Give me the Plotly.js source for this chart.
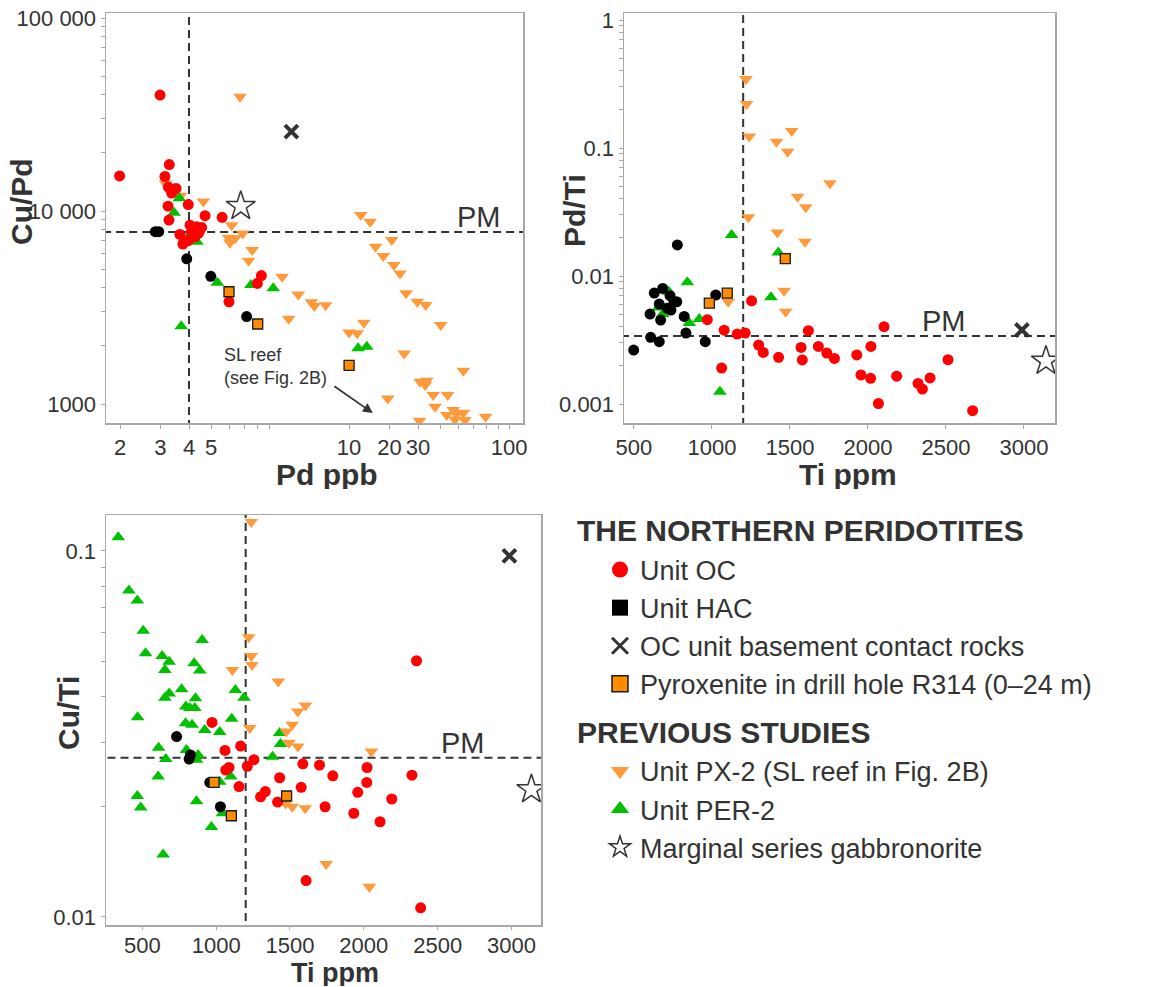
<!DOCTYPE html>
<html><head><meta charset="utf-8">
<script src="https://cdn.plot.ly/plotly-3.0.1.min.js"></script>
<style>html,body{margin:0;padding:0;background:#fff}#chart{width:1161px;height:987px}</style>
</head><body><div id="chart"></div>
<script>
// ---------- reference values ----------
const PD_LIMIT = 4;          // ppb
const TI_LIMIT = 1200;       // ppm
const PM_CUPD = 7780;
const PM_PDTI = 0.0034;
const PM_CUTI = 0.0272;

// ---------- Panel A: Cu/Pd vs Pd ppb ----------
const a_oc_pd   = [2.99,1.99,3.28,3.14,3.25,3.51,3.36,3.24,3.97,3.27,4.70,5.58,4.04,4.32,4.54,4.21,4.39,3.65,4.25,3.97,3.76,4.10,4.45,8.28,7.95,5.98];
const a_oc_cupd = [39900,15200,17400,15100,13300,13100,12400,10600,10800,8980,9460,9280,8450,8290,8230,8030,7660,7570,7360,7020,6740,7800,7900,4630,4220,3390];
const a_hac_pd   = [2.85,2.95,3.91,4.98,7.14];
const a_hac_cupd = [7820,7820,5660,4590,2840];
const a_per2_pd   = [3.63,3.44,3.93,4.33,5.32,7.46,9.33,3.70,21.9,23.9];
const a_per2_cupd = [11650,9800,7220,6930,4250,4140,3980,2530,1944,1980];
const a_pyx_pd   = [5.98,7.98,20.0];
const a_pyx_cupd = [3820,2600,1585];
const a_cont_pd   = [11.2];
const a_cont_cupd = [25800];
const a_marg_pd   = [6.73];
const a_marg_cupd = [10600];
const a_px2_pd = [6.68,4.62,6.14,6.86,5.94,6.36,6.04,7.55,7.29,10.2,12.0,13.7,14.1,15.8,10.9,3.16,3.68,
  22.5,24.7,30.7,26.1,28.2,31.4,33.4,35.5,39.7,43.2,50.3,34.8,63.1,40.8,43.0,43.7,46.6,53.9,47.5,29.5,
  53.4,57.0,59.0,63.1,64.1,58.0,78.9,40.6,20.0,21.7,23.2];
const a_px2_cupd = [39100,11200,8450,7660,7270,7220,6850,6280,5530,4570,3700,3370,3220,3250,2770,13900,12000,
  9530,8800,7080,6540,5850,5250,4750,3750,3390,3260,2570,1830,1490,1305,1254,1320,1113,1113,968,1070,
  877,931,895,902,826,832,859,820,2350,2330,2640];

// ---------- Panel B: Pd/Ti vs Ti ppm ----------
const b_px2_ti   = [1218,1222,1239,1414,1511,1485,1549,1601,1233,1419,1596,1462,1472,1104,1756];
const b_px2_pdti = [0.346,0.221,0.123,0.112,0.136,0.0935,0.0417,0.0344,0.0288,0.0219,0.0185,0.00768,0.00526,0.00630,0.0530];
const b_per2_ti   = [1126,1425,842,1378,724,656,684,919,855,1051];
const b_per2_pdti = [0.0209,0.0153,0.00893,0.00682,0.00754,0.00569,0.00505,0.00461,0.00430,0.00125];
const b_oc_ti   = [970,1254,1078,1162,1213,1062,1299,1329,1427,1571,1579,1618,1682,1736,1785,1928,1955,2019,2017,2103,2067,2184,2321,2349,2398,2513,2671];
const b_oc_pdti = [0.00456,0.00641,0.00378,0.00352,0.00359,0.00191,0.00289,0.00253,0.00232,0.00277,0.00221,0.00374,0.00282,0.00250,0.00227,0.00242,0.00169,0.00282,0.00159,0.00402,0.00101,0.00165,0.00145,0.00131,0.00160,0.00222,0.000887];
const b_hac_ti   = [778,630,684,731,756,774,662,713,737,603,671,822,1024,607,662,833,957,498];
const b_hac_pdti = [0.0175,0.00736,0.00801,0.00702,0.00630,0.00630,0.00604,0.00560,0.00543,0.00505,0.00453,0.00484,0.00711,0.00332,0.00307,0.00359,0.00307,0.00264];
const b_pyx_ti   = [983,1098,1470];
const b_pyx_pdti = [0.00615,0.00736,0.0137];
const b_cont_ti   = [2987];
const b_cont_pdti = [0.00379];
const b_marg_ti   = [3141];
const b_marg_pdti = [0.00217];

// ---------- Panel C: Cu/Ti vs Ti ppm ----------
const c_per2_ti = [337,409,466,506,522,634,682,653,905,851,889,766,682,653,860,795,822,855,468,793,837,923,1024,1105,1130,1189,1430,1436,1382,610,659,799,878,867,607,1099,1024,466,489,867,1043,968,641];
const c_per2_cuti = [0.109,0.0779,0.0732,0.0605,0.0525,0.0516,0.0498,0.0473,0.0571,0.0493,0.0471,0.0419,0.0408,0.0397,0.0396,0.0376,0.0372,0.0372,0.0351,0.0338,0.0335,0.0324,0.0320,0.0348,0.0417,0.0397,0.0318,0.0297,0.0274,0.0290,0.0270,0.0286,0.0277,0.0269,0.0242,0.0242,0.0234,0.0214,0.0199,0.0207,0.0192,0.0176,0.0148];
const c_px2_ti   = [1238,1220,1238,1243,1110,1421,1605,1553,1515,1475,1493,1553,1227,2051,1470,1515,1603,1745,2038];
const c_px2_cuti = [0.120,0.0581,0.0516,0.0488,0.0473,0.0440,0.0378,0.0364,0.0335,0.0321,0.0299,0.0292,0.0328,0.0283,0.0204,0.0200,0.0198,0.01396,0.0121];
const c_oc_ti   = [972,1166,1060,1256,1211,1087,1065,1155,1430,1333,1301,1416,1576,1587,1700,1790,1738,1932,1959,2022,2020,2110,2189,2326,2357,1609,2385];
const c_oc_cuti = [0.0340,0.0293,0.0285,0.0269,0.0258,0.0256,0.0252,0.0227,0.0240,0.0220,0.0213,0.0206,0.0226,0.0262,0.0260,0.0243,0.0200,0.0192,0.0219,0.0256,0.0233,0.0182,0.0210,0.0244,0.0501,0.01257,0.01059];
const c_hac_ti   = [732,826,817,957,1029];
const c_hac_cuti = [0.0311,0.0277,0.0270,0.0233,0.0200];
const c_pyx_ti   = [986,1103,1477];
const c_pyx_cuti = [0.0233,0.0189,0.0214];
const c_cont_ti   = [2986];
const c_cont_cuti = [0.0969];
const c_marg_ti   = [3135];
const c_marg_cuti = [0.0223];

// ---------- tick labels ----------
const a_x_tickvals = [2,3,4,5,6,7,8,9,20,30,40,50,60,70,80,90,100];
const a_x_ticktext = ['2','3','4','5','','','','','10','20','30','','','','','','100'];
const a_y_tickvals = [1000,2000,3000,4000,5000,6000,7000,8000,9000,10000,20000,30000,40000,50000,60000,70000,80000,90000,100000];
const a_y_ticktext = ['1000','','','','','','','','','10 000','','','','','','','','','100 000'];
const ti_tickvals = [500,1000,1500,2000,2500,3000];
const ti_ticktext = ['500','1000','1500','2000','2500','3000'];
const b_y_tickvals = [0.001,0.002,0.003,0.004,0.005,0.006,0.007,0.008,0.009,0.01,0.02,0.03,0.04,0.05,0.06,0.07,0.08,0.09,0.1,0.2,0.3,0.4,0.5,0.6,0.7,0.8,0.9,1];
const b_y_ticktext = ['0.001','','','','','','','','','0.01','','','','','','','','','0.1','','','','','','','','','1'];
const c_y_tickvals = [0.01,0.02,0.03,0.04,0.05,0.06,0.07,0.08,0.09,0.1];
const c_y_ticktext = ['0.01','','','','','','','','','0.1'];

// ---------- labels ----------
const T_A_X = 'Pd ppb', T_A_Y = 'Cu/Pd';
const T_B_X = 'Ti ppm', T_B_Y = 'Pd/Ti';
const T_C_X = 'Ti ppm', T_C_Y = 'Cu/Ti';
const GROUP1 = 'THE NORTHERN PERIDOTITES';
const GROUP2 = 'PREVIOUS STUDIES';
const LBL_OC = 'Unit OC';
const LBL_HAC = 'Unit HAC';
const LBL_CONT = 'OC unit basement contact rocks';
const LBL_PYX = 'Pyroxenite in drill hole R314 (0–24 m)';
const LBL_PX2 = 'Unit PX-2 (SL reef in Fig. 2B)';
const LBL_PER2 = 'Unit PER-2';
const LBL_MARG = 'Marginal series gabbronorite';

// ---------- styles ----------
const FONT = 'Liberation Sans, Arial, Helvetica, sans-serif';
const TXT = '#333333';
const C_RED = '#ff0000', C_BLACK = '#000000', C_PX2 = '#ff9a3c', C_PYX = '#ff8c00', C_GREEN = '#00c000', C_DARK = '#333333';

const ST = {
  oc:   {symbol:'circle', size:11, color:C_RED},
  hac:  {symbol:'circle', size:11, color:C_BLACK},
  per2: {symbol:'triangle-up', size:12, color:C_GREEN},
  px2:  {symbol:'triangle-down', size:12, color:C_PX2},
  pyx:  {symbol:'square', size:10, color:C_PYX, line:{color:'#1a1a1a', width:1.3}},
  cont: {symbol:'x-thin', size:13, color:C_DARK, line:{color:C_DARK, width:4}},
  marg: {symbol:'star-open', size:22, color:C_DARK, line:{color:C_DARK, width:1.5}}
};

function pts(x, y, xa, ya, st, name) {
  return {type:'scatter', mode:'markers', x:x, y:y, xaxis:xa, yaxis:ya, name:name,
          marker:st, showlegend:false, hoverinfo:'x+y+name'};
}
function refline(x, y, xa, ya) {
  return {type:'scatter', mode:'lines', x:x, y:y, xaxis:xa, yaxis:ya, showlegend:false,
          hoverinfo:'skip', line:{color:C_DARK, width:2, dash:'8px,5px'}};
}

const traces = [];
// reference lines (drawn below points)
traces.push(refline([PD_LIMIT, PD_LIMIT], [100, 1e6], 'x', 'y'));
traces.push(refline([1, 1000], [PM_CUPD, PM_CUPD], 'x', 'y'));
traces.push(refline([TI_LIMIT, TI_LIMIT], [1e-5, 10], 'x2', 'y2'));
traces.push(refline([0, 4000], [PM_PDTI, PM_PDTI], 'x2', 'y2'));
traces.push(refline([TI_LIMIT, TI_LIMIT], [1e-4, 1], 'x3', 'y3'));
traces.push(refline([0, 4000], [PM_CUTI, PM_CUTI], 'x3', 'y3'));

// Panel A
traces.push(pts(a_px2_pd, a_px2_cupd, 'x', 'y', ST.px2, LBL_PX2));
traces.push(pts(a_per2_pd, a_per2_cupd, 'x', 'y', ST.per2, LBL_PER2));
traces.push(pts(a_oc_pd, a_oc_cupd, 'x', 'y', ST.oc, LBL_OC));
traces.push(pts(a_hac_pd, a_hac_cupd, 'x', 'y', ST.hac, LBL_HAC));
traces.push(pts(a_pyx_pd, a_pyx_cupd, 'x', 'y', ST.pyx, LBL_PYX));
traces.push(pts(a_cont_pd, a_cont_cupd, 'x', 'y', ST.cont, LBL_CONT));
traces.push(pts(a_marg_pd, a_marg_cupd, 'x', 'y', ST.marg, LBL_MARG));
// Panel B
traces.push(pts(b_px2_ti, b_px2_pdti, 'x2', 'y2', ST.px2, LBL_PX2));
traces.push(pts(b_per2_ti, b_per2_pdti, 'x2', 'y2', ST.per2, LBL_PER2));
traces.push(pts(b_oc_ti, b_oc_pdti, 'x2', 'y2', ST.oc, LBL_OC));
traces.push(pts(b_hac_ti, b_hac_pdti, 'x2', 'y2', ST.hac, LBL_HAC));
traces.push(pts(b_pyx_ti, b_pyx_pdti, 'x2', 'y2', ST.pyx, LBL_PYX));
traces.push(pts(b_cont_ti, b_cont_pdti, 'x2', 'y2', ST.cont, LBL_CONT));
traces.push(pts(b_marg_ti, b_marg_pdti, 'x2', 'y2', ST.marg, LBL_MARG));
// Panel C
traces.push(pts(c_per2_ti, c_per2_cuti, 'x3', 'y3', ST.per2, LBL_PER2));
traces.push(pts(c_px2_ti, c_px2_cuti, 'x3', 'y3', ST.px2, LBL_PX2));
traces.push(pts(c_oc_ti, c_oc_cuti, 'x3', 'y3', ST.oc, LBL_OC));
traces.push(pts(c_hac_ti, c_hac_cuti, 'x3', 'y3', ST.hac, LBL_HAC));
traces.push(pts(c_pyx_ti, c_pyx_cuti, 'x3', 'y3', ST.pyx, LBL_PYX));
traces.push(pts(c_cont_ti, c_cont_cuti, 'x3', 'y3', ST.cont, LBL_CONT));
traces.push(pts(c_marg_ti, c_marg_cuti, 'x3', 'y3', ST.marg, LBL_MARG));

// legend entries (legend-only keys)
function key(name, group, marker, gtitle) {
  const t = {type:'scatter', mode:'markers', x:[null], y:[null], name:name, legendgroup:group,
             marker:marker, showlegend:true, hoverinfo:'skip'};
  if (gtitle) t.legendgrouptitle = {text:gtitle, font:{size:30, weight:700, color:TXT, family:FONT}};
  return t;
}
traces.push(key(LBL_OC, 'g1', {symbol:'circle', size:18, color:C_RED}, GROUP1));
traces.push(key(LBL_HAC, 'g1', {symbol:'square', size:16, color:C_BLACK}));
traces.push(key(LBL_CONT, 'g1', {symbol:'x-thin', size:16, color:C_DARK, line:{color:C_DARK, width:3}}));
traces.push(key(LBL_PYX, 'g1', {symbol:'square', size:16, color:C_PYX, line:{color:'#1a1a1a', width:1.5}}));
traces.push(key(LBL_PX2, 'g2', {symbol:'triangle-down', size:18, color:C_PX2}, GROUP2));
traces.push(key(LBL_PER2, 'g2', {symbol:'triangle-up', size:18, color:C_GREEN}));
traces.push(key(LBL_MARG, 'g2', {symbol:'star-open', size:18, color:C_DARK, line:{color:C_DARK, width:1.5}}));

const W = 1161, H = 987;
function axis(extra) {
  return Object.assign({
    showline:true, mirror:true, linecolor:'#a8a8a8', linewidth:1.5,
    ticks:'outside', ticklen:4, tickwidth:1, tickcolor:'#a8a8a8',
    showgrid:false, zeroline:false, automargin:false, fixedrange:true,
    tickmode:'array', tickfont:{size:22, color:TXT, family:FONT}
  }, extra);
}
const TFONT = {size:30, weight:700, color:TXT, family:FONT};
function xtitle(text, px, py, fs) {
  return {xref:'paper', yref:'paper', x:px/W, y:1 - py/H, xanchor:'center', yanchor:'middle',
          height:fs, valign:'middle', text:text, showarrow:false,
          font:Object.assign({}, TFONT, {size:fs})};
}
function ytitle(text, px, py) {
  return {xref:'paper', yref:'paper', x:px/W, y:1 - py/H, xanchor:'center', yanchor:'middle',
          textangle:-90, text:text, showarrow:false, font:TFONT};
}

const yTop = [1 - 423/H, 1 - 13/H];
const yBot = [1 - 925/H, 1 - 515/H];

const layout = {
  width:W, height:H, margin:{l:0, r:0, t:0, b:0},
  paper_bgcolor:'#ffffff', plot_bgcolor:'#ffffff',
  font:{family:FONT, color:TXT},
  xaxis: axis({type:'log', range:[0.2396, 2.0605], domain:[106/W, 523/W], anchor:'y',
               tickvals:a_x_tickvals, ticktext:a_x_ticktext}),
  yaxis: axis({type:'log', range:[2.902, 5.026], domain:yTop, anchor:'x',
               tickvals:a_y_tickvals, ticktext:a_y_ticktext}),
  xaxis2: axis({type:'linear', range:[436, 3199], domain:[624/W, 1055/W], anchor:'y2',
               tickvals:ti_tickvals, ticktext:ti_ticktext}),
  yaxis2: axis({type:'log', range:[-3.148, 0.055], domain:yTop, anchor:'x2',
               tickvals:b_y_tickvals, ticktext:b_y_ticktext}),
  xaxis3: axis({type:'linear', range:[254, 3200], domain:[106/W, 541/W], anchor:'y3',
               tickvals:ti_tickvals, ticktext:ti_ticktext, ticklen:3, ticklabelstandoff:-3}),
  yaxis3: axis({type:'log', range:[-2.022, -0.902], domain:yBot, anchor:'x3',
               tickvals:c_y_tickvals, ticktext:c_y_ticktext}),
  legend: {x:572/W, xanchor:'left', y:1 - 503.5/H, yanchor:'top', bgcolor:'rgba(0,0,0,0)',
           font:{size:27, color:TXT, family:FONT}, traceorder:'grouped', tracegroupgap:7,
           itemsizing:'trace', indentation:28},
  showlegend:true,
  annotations: [
    xtitle(T_A_X, 327, 474, 30), ytitle(T_A_Y, 21, 202),
    xtitle(T_B_X, 848, 474, 30), ytitle(T_B_Y, 574, 211),
    xtitle(T_C_X, 335, 972, 27), ytitle(T_C_Y, 68, 713),
    {xref:'x', yref:'y', x:Math.log10(94), y:Math.log10(PM_CUPD), xanchor:'right', yanchor:'bottom',
     text:'PM', showarrow:false, font:{size:29, color:TXT, family:FONT}, yshift:-3},
    {xref:'x2', yref:'y2', x:2641, y:Math.log10(PM_PDTI), xanchor:'right', yanchor:'bottom',
     text:'PM', showarrow:false, font:{size:29, color:TXT, family:FONT}, yshift:-3},
    {xref:'x3', yref:'y3', x:2835, y:Math.log10(PM_CUTI), xanchor:'right', yanchor:'bottom',
     text:'PM', showarrow:false, font:{size:29, color:TXT, family:FONT}, yshift:-3},
    {xref:'x', yref:'y', x:Math.log10(5.6), y:3.197, xanchor:'left', yanchor:'middle', align:'left',
     text:'SL reef<br>(see Fig. 2B)', showarrow:false, font:{size:18, color:TXT, family:FONT}},
    {xref:'x', yref:'y', x:Math.log10(25.4), y:Math.log10(898), text:'', showarrow:true,
     ax:-40, ay:-28, arrowhead:2, arrowsize:1.1, arrowwidth:1.8, arrowcolor:C_DARK, standoff:0}
  ]
};

Plotly.newPlot('chart', traces, layout, {displayModeBar:false, staticPlot:true});
</script></body></html>
